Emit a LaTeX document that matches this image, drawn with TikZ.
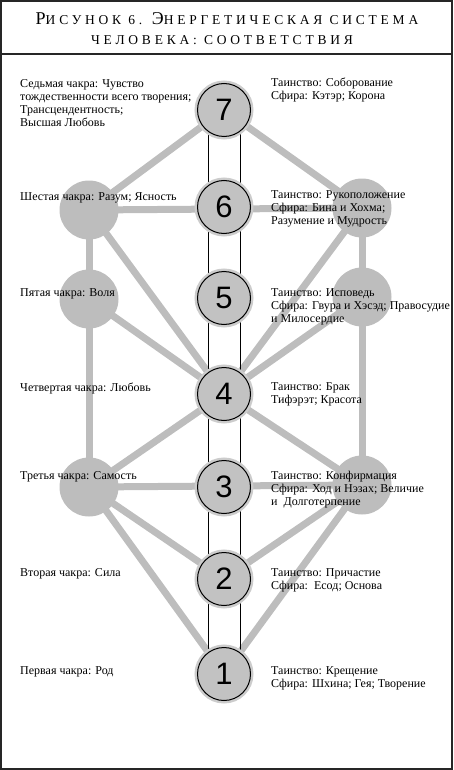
\documentclass[tikz,border=0pt]{standalone}
\usepackage{fontspec}
\setmainfont{Liberation Serif}
\newfontfamily\digitfont{Liberation Sans}
\newfontfamily\titlefont[LetterSpace=28]{Liberation Serif}
\usetikzlibrary{backgrounds}
\definecolor{linegray}{gray}{0.74}
\definecolor{ringgray}{gray}{0.80}
\definecolor{chakrafill}{gray}{0.76}
\definecolor{framegray}{gray}{0.15}
\newcommand{\titlecap}[1]{{\fontsize{18}{20}\selectfont #1}}
\newcommand{\titlesc}[1]{{\fontsize{13.5}{20}\selectfont #1}}

\begin{document}
\begin{tikzpicture}[x=1pt, y=-1pt,
    chakra/.style={circle, minimum size=53pt, inner sep=0pt, fill=chakrafill,
      draw=black, line width=1pt, preaction={draw=ringgray, line width=6pt},
      font=\digitfont\fontsize{31}{31}\selectfont},
    sefira/.style={circle, minimum size=59pt, inner sep=0pt, fill=linegray},
    link/.style={draw=linegray, line width=7pt},
    tube/.style={draw=black, line width=0.8pt},
    lbl/.style={anchor=base west, align=left, inner sep=0pt,
      font=\fontsize{12}{13}\selectfont}]
  \useasboundingbox (0,0) rectangle (453,770);
  \draw[framegray, line width=2pt] (1,1) rectangle (452,769);
  \draw[framegray, line width=1.5pt] (1,54) -- (452,54);

  % title
  \node[anchor=base, inner sep=0pt, font=\titlefont] (title1) at (227,25)
    {\titlecap{Р}\titlesc{ИСУНОК 6. }\titlecap{Э}\titlesc{НЕРГЕТИЧЕСКАЯ СИСТЕМА}};
  \node[anchor=base, inner sep=0pt, font=\titlefont] (title2) at (222,45)
    {\titlesc{ЧЕЛОВЕКА: СООТВЕТСТВИЯ}};

  % chakras
  \node[chakra] (c7) at (224,110) {7};
  \node[chakra] (c6) at (224,207) {6};
  \node[chakra] (c5) at (224,298) {5};
  \node[chakra] (c4) at (224,394) {4};
  \node[chakra] (c3) at (224,487) {3};
  \node[chakra] (c2) at (224,579) {2};
  \node[chakra] (c1) at (224,674) {1};

  % side spheres
  \node[sefira] (l6) at (89,210) {};
  \node[sefira] (l5) at (89,299) {};
  \node[sefira] (l3) at (89,487) {};
  \node[sefira] (r6) at (362,208) {};
  \node[sefira] (r5) at (362,297) {};
  \node[sefira] (r3) at (362,485) {};

  \begin{scope}[on background layer]
    \draw[link] (l6.center) -- (c7.center) -- (r6.center);
    \draw[link] (l6.center) -- (r6.center);
    \draw[link] (l6.center) -- (l5.center) -- (l3.center);
    \draw[link] (r6.center) -- (r5.center) -- (r3.center);
    \draw[link] (l6.center) -- (c4.center) -- (r6.center);
    \draw[link] (l5.center) -- (c4.center) -- (r5.center);
    \draw[link] (l3.center) -- (c4.center) -- (r3.center);
    \draw[link] (l3.center) -- (r3.center);
    \draw[link] (l3.center) -- (c2.center) -- (r3.center);
    \draw[link] (l3.center) -- (c1.center) -- (r3.center);
    \draw[tube] ([xshift=-16pt]c7.center) -- ([xshift=-16pt]c1.center);
    \draw[tube] ([xshift=16pt]c7.center) -- ([xshift=16pt]c1.center);
  \end{scope}

  % left labels (placed at the baseline of their last line)
  \node[lbl] (t7l) at (20,127) {Седьмая чакра: Чувство\\тождественности всего творения;\\Трансцендентность;\\Высшая Любовь};
  \node[lbl] (t6l) at (20,200) {Шестая чакра: Разум; Ясность};
  \node[lbl] (t5l) at (20,296) {Пятая чакра: Воля};
  \node[lbl] (t4l) at (20,391) {Четвертая чакра: Любовь};
  \node[lbl] (t3l) at (20,479) {Третья чакра: Самость};
  \node[lbl] (t2l) at (20,576) {Вторая чакра: Сила};
  \node[lbl] (t1l) at (20,674) {Первая чакра: Род};

  % right labels
  \node[lbl] (t7r) at (271,100) {Таинство: Соборование\\Сфира: Кэтэр; Корона};
  \node[lbl] (t6r) at (271,224) {Таинство: Рукоположение\\Сфира: Бина и Хохма;\\Разумение и Мудрость};
  \node[lbl] (t5r) at (271,322) {Таинство: Исповедь\\Сфира: Гвура и Хэсэд; Правосудие\\и Милосердие};
  \node[lbl] (t4r) at (271,403) {Таинство: Брак\\Тифэрэт; Красота};
  \node[lbl] (t3r) at (271,505) {Таинство: Конфирмация\\Сфира: Ход и Нэзах; Величие\\и~~Долготерпение};
  \node[lbl] (t2r) at (271,589) {Таинство: Причастие\\Сфира:~~Есод; Основа};
  \node[lbl] (t1r) at (271,687) {Таинство: Крещение\\Сфира: Шхина; Гея; Творение};
\end{tikzpicture}
\end{document}
